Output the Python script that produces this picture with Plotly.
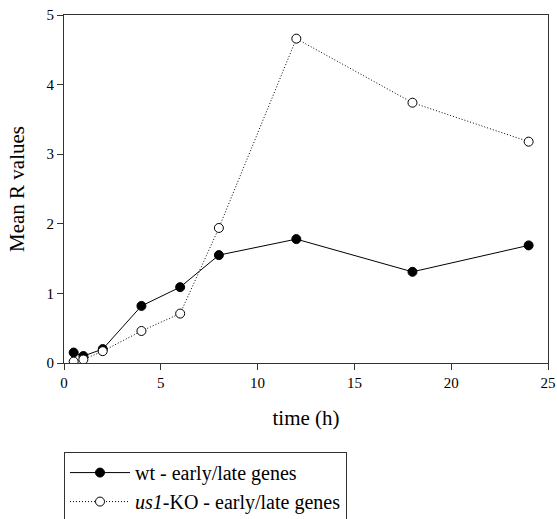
import plotly.graph_objects as go

time_h = [0.5, 1, 2, 4, 6, 8, 12, 18, 24]
wt_values = [0.15, 0.10, 0.20, 0.82, 1.09, 1.55, 1.78, 1.31, 1.69]
ko_values = [0.02, 0.05, 0.17, 0.46, 0.71, 1.94, 4.66, 3.74, 3.18]

x_ticks = [0, 5, 10, 15, 20, 25]
y_ticks = [0, 1, 2, 3, 4, 5]

FF = "Liberation Serif"

fig = go.Figure()
fig.add_trace(go.Scatter(
    x=time_h, y=wt_values, mode="lines+markers",
    name="wt - early/late genes",
    line=dict(color="black", width=1),
    marker=dict(symbol="circle", size=9, color="black", line=dict(color="black", width=1)),
))
fig.add_trace(go.Scatter(
    x=time_h, y=ko_values, mode="lines+markers",
    name="<i>us1</i>-KO - early/late genes",
    line=dict(color="black", width=1, dash="1px,2px"),
    marker=dict(symbol="circle", size=9, color="white", line=dict(color="black", width=1)),
))

fig.update_layout(
    width=557, height=519,
    margin=dict(l=64, r=9, t=15, b=156, autoexpand=False),
    paper_bgcolor="white", plot_bgcolor="white",
    font=dict(family=FF, color="black", size=15),
    showlegend=True,
    legend=dict(
        x=0, y=-0.256, xanchor="left", yanchor="top",
        bordercolor="#333", borderwidth=1, bgcolor="white",
        font=dict(family=FF, size=20, color="black"),
        itemwidth=60, tracegroupgap=0,
    ),
    xaxis=dict(
        range=[0, 25], tickvals=x_ticks, ticks="outside", ticklen=6,
        tickcolor="#333", showline=True, linecolor="#333", linewidth=1,
        mirror=True, showgrid=False, zeroline=False,
        tickfont=dict(family=FF, size=15, color="black"),
        title=dict(text="time (h)", font=dict(family=FF, size=21, color="black"), standoff=20),
    ),
    yaxis=dict(
        range=[0, 5], tickvals=y_ticks, ticks="outside", ticklen=6,
        tickcolor="#333", showline=True, linecolor="#333", linewidth=1,
        mirror=True, showgrid=False, zeroline=False,
        tickfont=dict(family=FF, size=15, color="black"),
        title=dict(text="Mean R values", font=dict(family=FF, size=21, color="black"), standoff=16),
    ),
)
fig.write_html("out.html")
